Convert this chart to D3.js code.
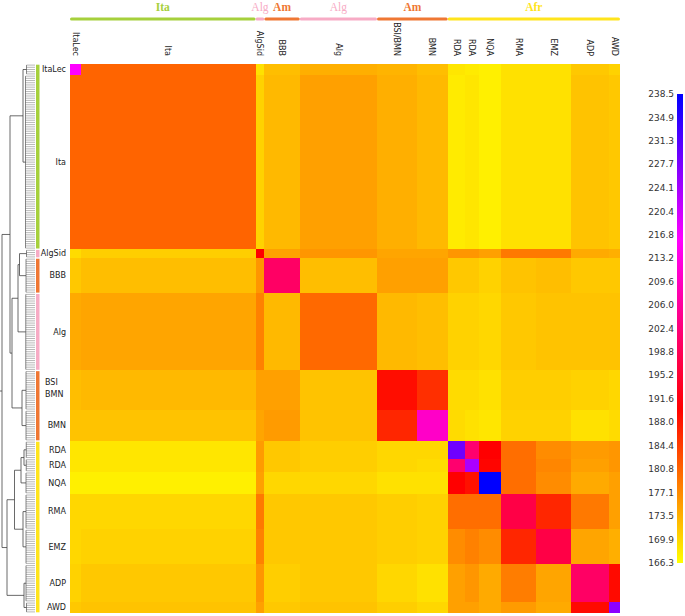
<!DOCTYPE html>
<html>
<head>
<meta charset="utf-8">
<script src="https://d3js.org/d3.v7.min.js"></script>
<style>
body { margin:0; background:#fff; }
text { font-family: 'DejaVu Sans', sans-serif; }
</style>
</head>
<body>
<script>

// groups in dendrogram order, and how many samples each has
var groups = ['ItaLec','Ita','AlgSid','BBB','Alg','BSI/BMN','BMN','RDA','RDA','NQA','RMA','EMZ','ADP','AWD'];
var groupN = [5,79,4,16,35,18,14,8,6,10,16,16,17,5];

// regions on top / left colour bar
var regions = ['Ita','Alg','Am','Alg','Am','Afr'];
var regionFirst = [0,2,3,4,5,7];
var regionLast  = [1,2,3,4,6,13];
var regionColor = {Ita:'#a6d03c', Alg:'#f7abc5', Am:'#ef7733', Afr:'#ffe41c'};

// mean similarity between groups (row x col)
var values = [
 [216.1,180.7,169.1,172.3,173.7,173.3,172.3,168.6,168.2,167.7,169.1,169.1,171.4,170.5],
 [180.7,180.7,170.5,172.8,175.1,173.7,172.8,168.2,168.6,167.7,169.1,169.1,171.9,171.4],
 [169.6,170.9,190.0,175.1,176.1,174.7,174.7,176.1,176.1,175.1,178.8,178.8,174.2,173.7],
 [171.4,172.3,176.1,200.2,172.3,175.1,175.1,171.4,171.4,170.5,171.9,172.3,171.4,171.4],
 [174.2,174.7,178.0,172.8,180.2,172.8,172.3,170.5,170.5,170.0,171.4,171.9,171.9,171.9],
 [172.3,172.8,175.1,175.1,171.9,188.8,185.6,169.6,169.6,169.1,170.9,170.9,170.5,170.0],
 [171.9,171.9,174.7,175.6,171.9,186.5,210.5,169.6,169.1,168.6,170.5,170.5,169.1,169.6],
 [168.6,168.6,175.6,171.4,170.9,170.0,170.0,228.8,201.3,190.0,179.8,177.0,175.6,176.1],
 [168.6,168.6,175.6,171.4,170.9,170.0,169.6,201.3,223.6,189.5,179.8,177.5,175.1,176.1],
 [167.7,167.7,175.1,170.0,170.0,169.1,169.1,190.0,188.4,238.5,179.8,177.0,174.2,175.1],
 [170.0,170.0,178.8,171.4,171.4,170.9,170.5,179.8,179.8,179.8,197.2,186.5,178.8,175.1],
 [170.0,170.5,178.0,171.4,171.4,170.9,170.5,177.0,178.0,177.0,186.5,197.2,174.7,173.7],
 [170.5,171.4,176.1,170.9,171.4,170.0,169.1,175.1,176.1,174.2,178.4,174.7,200.2,189.1],
 [171.4,171.9,175.1,171.4,171.9,170.9,170.0,175.1,175.1,174.2,175.6,174.2,189.1,226.2]
];

var tickLabels = ['166.3','169.9','173.5','177.1','180.8','184.4','188.0','191.6','195.2','198.8','202.4',
  '206.0','209.6','213.2','216.8','220.4','224.1','227.7','231.3','234.9','238.5'];
var cmapStops = [166.3, 190.0, 216.1, 238.5];
var cmapColors = ['#ffff00','#ff0000','#ff00ff','#0000ff'];

// dendrogram: merges [a, b, height], new node ids start at 14
var groupH = [2,6,2,4,5,4,4,3,3,4,4,4,4,2];
var linkage = [
 [7,8,12], [12,13,12], [10,11,16], [0,1,16], [5,6,20], [14,9,24], [2,3,30],
 [20,4,36], [19,16,50], [21,18,60], [17,23,68], [22,15,80], [24,25,100]
];

var W = 685, H = 616;
var svg = d3.select('body').append('svg').attr('width', W).attr('height', H);

var total = d3.sum(groupN);
var cum = [0];
groupN.forEach(function(n, i) { cum.push(cum[i] + n); });

var xs = d3.scaleLinear().domain([0, total]).range([70, 620]);
var ys = d3.scaleLinear().domain([0, total]).range([64, 613]);
var color = d3.scaleLinear().domain(cmapStops).range(cmapColors).clamp(true);

// heatmap blocks
var cells = [];
values.forEach(function(row, i) {
  row.forEach(function(v, j) { cells.push({i:i, j:j, v:v}); });
});
svg.append('g').selectAll('rect').data(cells).enter().append('rect')
  .attr('x', function(d) { return xs(cum[d.j]); })
  .attr('y', function(d) { return ys(cum[d.i]); })
  .attr('width', function(d) { return xs(cum[d.j+1]) - xs(cum[d.j]); })
  .attr('height', function(d) { return ys(cum[d.i+1]) - ys(cum[d.i]); })
  .attr('fill', function(d) { return color(d.v); })
  .attr('shape-rendering', 'crispEdges');

// top region lines and titles
var topG = svg.append('g');
regions.forEach(function(r, k) {
  var x0 = xs(cum[regionFirst[k]]), x1 = xs(cum[regionLast[k]+1]);
  topG.append('line').attr('x1', x0 + 1.5).attr('x2', x1 - 1.5).attr('y1', 19).attr('y2', 19)
    .attr('stroke', regionColor[r]).attr('stroke-width', 3).attr('stroke-linecap', 'round');
  topG.append('text').attr('x', (x0 + x1) / 2).attr('y', 11)
    .attr('text-anchor', 'middle')
    .style('font-family', "'Liberation Serif', serif")
    .style('font-weight', r == 'Alg' ? 'normal' : 'bold')
    .style('font-size', '11.5px')
    .attr('fill', regionColor[r]).text(r);
});

// column labels
svg.append('g').selectAll('text').data(groups).enter().append('text')
  .attr('transform', function(d, i) {
    return 'translate(' + xs((cum[i] + cum[i+1]) / 2) + ',56) rotate(90)';
  })
  .attr('text-anchor', 'end').attr('dy', '0.35em')
  .style('font-size', '8px').attr('fill', '#222')
  .text(function(d) { return d; });

// row labels
var rl = svg.append('g').style('font-size', '8px').attr('fill', '#222');
groups.forEach(function(g, i) {
  var yc = ys((cum[i] + cum[i+1]) / 2);
  if (g == 'BSI/BMN') {
    rl.append('text').attr('x', 45).attr('y', ys(cum[i]) + 12).attr('dy', '0.35em').text('BSI');
    rl.append('text').attr('x', 45).attr('y', ys(cum[i]) + 24).attr('dy', '0.35em').text('BMN');
  } else {
    rl.append('text').attr('x', 66).attr('y', yc).attr('dy', '0.35em')
      .attr('text-anchor', 'end').text(g);
  }
});

// left region colour bar
regions.forEach(function(r, k) {
  var y0 = ys(cum[regionFirst[k]]), y1 = ys(cum[regionLast[k]+1]);
  svg.append('rect').attr('x', 36).attr('y', y0 + 0.7).attr('width', 3.5).attr('height', y1 - y0 - 1.4)
    .attr('fill', regionColor[r]);
});

// dendrogram
var dx = d3.scaleLinear().domain([0, 100]).range([27, 2]);
var dg = svg.append('g').attr('fill', 'none');
var nodes = [];
groups.forEach(function(g, i) {
  var yA = ys(cum[i] + 0.5), yB = ys(cum[i+1] - 0.5);
  d3.range(cum[i], cum[i+1]).forEach(function(k) {
    dg.append('line').attr('x1', dx(groupH[i])).attr('x2', 35)
      .attr('y1', ys(k + 0.5)).attr('y2', ys(k + 0.5))
      .attr('stroke', '#888').attr('stroke-width', 0.6);
  });
  dg.append('line').attr('x1', dx(groupH[i])).attr('x2', dx(groupH[i]))
    .attr('y1', yA).attr('y2', yB).attr('stroke', '#555').attr('stroke-width', 0.7);
  nodes.push({x: dx(groupH[i]), y: (yA + yB) / 2});
});
linkage.forEach(function(m) {
  var a = nodes[m[0]], b = nodes[m[1]], x = dx(m[2]);
  dg.append('path')
    .attr('d', 'M' + a.x + ',' + a.y + 'H' + x + 'V' + b.y + 'H' + b.x)
    .attr('stroke', '#444').attr('stroke-width', 0.8);
  nodes.push({x: x, y: (a.y + b.y) / 2});
});
var root = nodes[nodes.length - 1];
dg.append('line').attr('x1', 0).attr('x2', root.x).attr('y1', root.y).attr('y2', root.y)
  .attr('stroke', '#444').attr('stroke-width', 0.8);

// colour bar
var cy = d3.scaleLinear().domain([166.3, 238.5]).range([563, 94]);
var grad = svg.append('defs').append('linearGradient').attr('id', 'cbar')
  .attr('x1', 0).attr('y1', 1).attr('x2', 0).attr('y2', 0);
cmapStops.forEach(function(s, k) {
  grad.append('stop').attr('offset', (s - 166.3) / (238.5 - 166.3)).attr('stop-color', cmapColors[k]);
});
svg.append('rect').attr('x', 677).attr('y', cy(238.5)).attr('width', 6)
  .attr('height', cy(166.3) - cy(238.5)).attr('fill', 'url(#cbar)');
svg.append('g').selectAll('text').data(tickLabels).enter().append('text')
  .attr('x', 674).attr('y', function(d) { return cy(+d); }).attr('dy', '0.35em')
  .attr('text-anchor', 'end').style('font-size', '9px').attr('fill', '#333')
  .text(function(d) { return d; });

</script>
</body>
</html>
